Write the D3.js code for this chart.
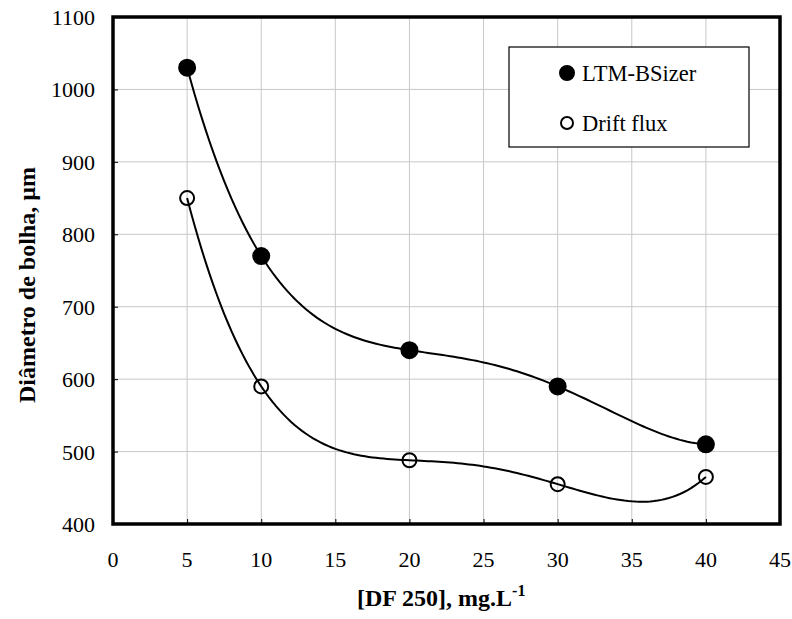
<!DOCTYPE html>
<html><head><meta charset="utf-8">
<script src="https://cdn.jsdelivr.net/npm/d3@7"></script>
<style>body{margin:0;background:#fff}</style>
</head><body>
<svg id="c" width="792" height="619"></svg>
<script>
const concentrations = [5, 10, 20, 30, 40];
const ltmValues = [1030, 770, 640, 590, 510];
const driftValues = [850, 590, 488, 455, 465];
const xTicks = [0, 5, 10, 15, 20, 25, 30, 35, 40, 45];
const yTicks = [400, 500, 600, 700, 800, 900, 1000, 1100];
const seriesNames = ["LTM-BSizer", "Drift flux"];

const FONT = "Liberation Serif";
const svg = d3.select("#c");
const L = 113, R = 780, T = 17, B = 524;
const x = d3.scaleLinear().domain([0, 45]).range([L, R]);
const y = d3.scaleLinear().domain([400, 1100]).range([B, T]);

// grid
svg.append("g").selectAll("line").data(xTicks.slice(1, -1)).join("line")
  .attr("x1", d => x(d)).attr("x2", d => x(d)).attr("y1", T).attr("y2", B)
  .attr("stroke", "#c8c8c8").attr("stroke-width", 1);
svg.append("g").selectAll("line").data(yTicks.slice(1, -1)).join("line")
  .attr("x1", L).attr("x2", R).attr("y1", d => y(d)).attr("y2", d => y(d))
  .attr("stroke", "#c8c8c8").attr("stroke-width", 1);

// axes (ticks drawn by d3 axis, labels placed from the scales)
const xAxis = d3.axisBottom(x).tickValues(xTicks).tickFormat("").tickSizeInner(-5).tickSizeOuter(0);
const gx = svg.append("g").attr("transform", `translate(0,${B})`).call(xAxis);
const yAxis = d3.axisLeft(y).tickValues(yTicks).tickFormat("").tickSizeInner(-5).tickSizeOuter(0);
const gy = svg.append("g").attr("transform", `translate(${L},0)`).call(yAxis);
[gx, gy].forEach(g => {
  g.select(".domain").remove();
  g.selectAll("line").attr("stroke", "#000").attr("stroke-width", 1);
  g.selectAll("text").remove();
});
xTicks.forEach(t => svg.append("text").attr("x", x(t)).attr("y", B + 43)
  .attr("text-anchor", "middle").attr("font-family", FONT).attr("font-size", 22).text(String(t)));
yTicks.forEach(t => svg.append("text").attr("x", L - 18).attr("y", y(t) + 8)
  .attr("text-anchor", "end").attr("font-family", FONT).attr("font-size", 22).text(String(t)));

// frame
svg.append("rect").attr("x", L).attr("y", T).attr("width", R - L).attr("height", B - T)
  .attr("fill", "none").attr("stroke", "#000").attr("stroke-width", 3.5);

// trendline: polynomial (order 4) through the data points
function polyFit(xs, ys) {
  return t => xs.reduce((sum, xi, i) => {
    let term = ys[i];
    xs.forEach((xj, j) => { if (j !== i) term *= (t - xj) / (xi - xj); });
    return sum + term;
  }, 0);
}
const line = d3.line().x(d => x(d[0])).y(d => y(d[1]));
const series = [
  {name: seriesNames[0], vals: ltmValues, fill: "#000", r: 8},
  {name: seriesNames[1], vals: driftValues, fill: "none", r: 7}
];
const xMin = d3.min(concentrations), xMax = d3.max(concentrations);
series.forEach(s => {
  const f = polyFit(concentrations, s.vals);
  const samples = d3.range(xMin, xMax + 0.001, 0.25).map(t => [t, f(t)]);
  svg.append("path").attr("d", line(samples)).attr("fill", "none")
    .attr("stroke", "#000").attr("stroke-width", 2);
});
series.forEach(s => {
  const pts = concentrations.map((c, i) => [c, s.vals[i]]);
  svg.append("g").selectAll("circle").data(pts).join("circle")
    .attr("cx", d => x(d[0])).attr("cy", d => y(d[1])).attr("r", s.r)
    .attr("fill", s.fill).attr("stroke", "#000").attr("stroke-width", 2);
});

// legend
svg.append("rect").attr("x", 509).attr("y", 47).attr("width", 240).attr("height", 100)
  .attr("fill", "#fff").attr("stroke", "#000").attr("stroke-width", 1.2);
series.forEach((s, i) => {
  const cy = 73 + i * 50;
  svg.append("circle").attr("cx", 567).attr("cy", cy).attr("r", s.r - 1)
    .attr("fill", s.fill === "none" ? "#fff" : s.fill).attr("stroke", "#000").attr("stroke-width", 2);
  svg.append("text").attr("x", 582).attr("y", cy + 8)
    .attr("font-family", FONT).attr("font-size", 22.5).text(s.name);
});

// titles
const xt = svg.append("text").attr("x", 357).attr("y", 606)
  .attr("font-family", FONT).attr("font-size", 24).attr("font-weight", "bold");
xt.append("tspan").text("[DF 250], mg.L");
xt.append("tspan").attr("dy", -10).attr("font-size", 16).text("-1");

svg.append("text").attr("transform", "translate(35,285) rotate(-90)")
  .attr("text-anchor", "middle").attr("font-family", FONT).attr("font-size", 24)
  .attr("font-weight", "bold").text("Diâmetro de bolha, µm");
</script>
</body></html>
